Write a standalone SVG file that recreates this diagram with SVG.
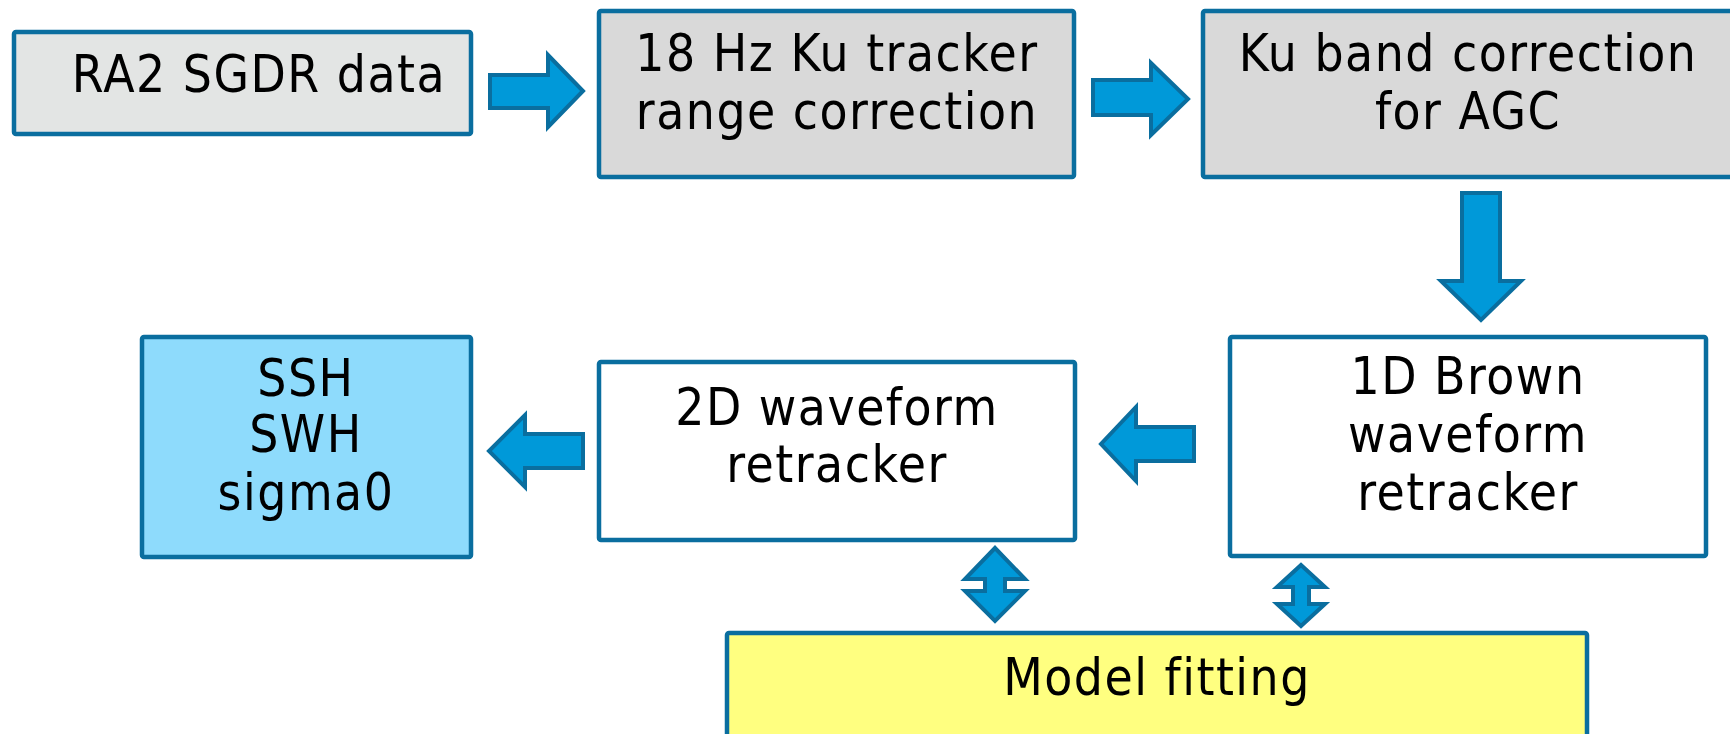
<svg xmlns="http://www.w3.org/2000/svg" width="1730" height="734" viewBox="0 0 1730 734">
<style>
.box{stroke:#0A6E9F;stroke-width:4.5}
.arr{fill:#0099D9;stroke:#0A6E9F;stroke-width:4;stroke-linejoin:miter}
text{font-family:"DejaVu Sans Condensed","DejaVu Sans",sans-serif;font-stretch:condensed;font-size:51px;letter-spacing:1.5px;fill:#000;text-anchor:middle}
</style>
<rect width="1730" height="734" fill="#fff"/>
<g id="n-ra2">
<rect class="box" x="14" y="32" width="457" height="102" rx="2" fill="#E3E5E4"/>
<text x="259" y="92">RA2 SGDR data</text>
</g>
<g id="n-tracker">
<rect class="box" x="599" y="11" width="475" height="166" rx="2" fill="#D9D9D9"/>
<text x="837" y="71">18 Hz Ku tracker</text>
<text x="837" y="129">range correction</text>
</g>
<g id="n-agc">
<rect class="box" x="1203" y="11" width="540" height="166" rx="2" fill="#D9D9D9"/>
<text x="1468" y="71">Ku band correction</text>
<text x="1468" y="129">for AGC</text>
</g>
<g id="n-brown">
<rect class="box" x="1230" y="337" width="476" height="219" rx="2" fill="#fff"/>
<text x="1468" y="394">1D Brown</text>
<text x="1468" y="452">waveform</text>
<text x="1468" y="510">retracker</text>
</g>
<g id="n-2d">
<rect class="box" x="599" y="362" width="476" height="178" rx="2" fill="#fff"/>
<text x="837" y="425">2D waveform</text>
<text x="837" y="482">retracker</text>
</g>
<g id="n-out">
<rect class="box" x="142" y="337" width="329" height="220" rx="2" fill="#8EDBFC"/>
<text x="306" y="396">SSH</text>
<text x="306" y="452">SWH</text>
<text x="306" y="510">sigma0</text>
</g>
<g id="n-model">
<rect class="box" x="727" y="633" width="860" height="110" rx="2" fill="#FFFF80"/>
<text x="1157" y="695">Model fitting</text>
</g>
<g id="connectors">
<polygon class="arr" points="490,75 548,75 548,55 583,91 548,127 548,108 490,108"/>
<polygon class="arr" points="1093,80 1151,80 1151,63 1188,99 1151,135 1151,115 1093,115"/>
<polygon class="arr" points="1462,193 1500,193 1500,281 1521,281 1481,320 1441,281 1462,281"/>
<polygon class="arr" points="1194,427 1136,427 1136,407 1101,444 1136,481 1136,461 1194,461"/>
<polygon class="arr" points="583,434 525,434 525,415 489,451 525,487 525,468 583,468"/>
<polygon class="arr" points="995,548 1025,579 1005,579 1005,591 1025,591 995,621 965,591 985,591 985,579 965,579"/>
<polygon class="arr" points="1301,565 1325,587 1309,587 1309,604 1325,604 1301,626 1277,604 1293,604 1293,587 1277,587"/>
</g>
</svg>
